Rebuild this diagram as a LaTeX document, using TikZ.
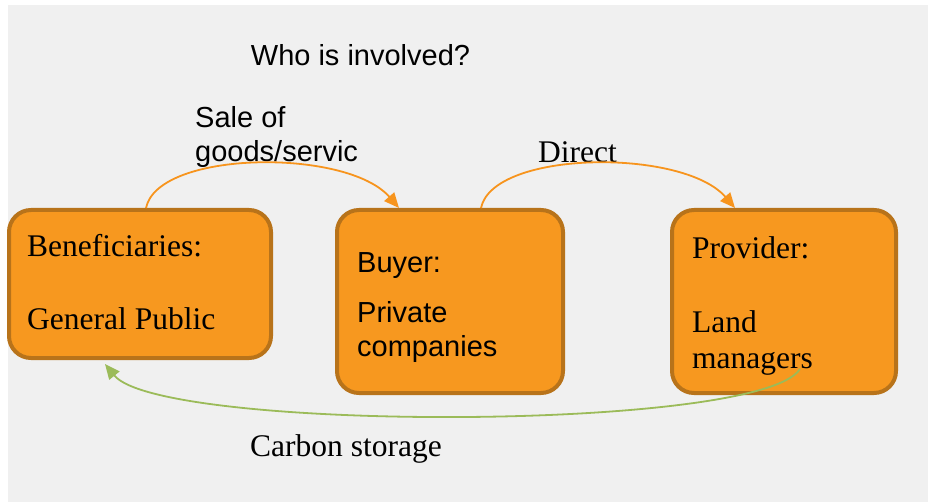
\documentclass[tikz,border=0pt]{standalone}
\usepackage{fontspec}
\setmainfont{Liberation Serif}
\newfontfamily\arialf{Liberation Sans}
\usetikzlibrary{arrows.meta}
\definecolor{bggray}{HTML}{F0F0F0}
\definecolor{boxfill}{HTML}{F7981F}
\definecolor{boxedge}{HTML}{B8731A}
\definecolor{arcorange}{HTML}{F7941D}
\definecolor{arcgreen}{HTML}{9BBB59}
\tikzset{
  box/.style={draw=boxedge, fill=boxfill, line width=4pt, rounded corners=22pt, inner sep=0pt},
  serif/.style={font=\fontsize{31.5}{36}\selectfont, anchor=base west, inner sep=0pt, text=black},
  sans/.style={font=\arialf\fontsize{29}{34}\selectfont, anchor=base west, inner sep=0pt, text=black},
  flow/.style={draw=arcorange, line width=1.8pt, -{Triangle[length=15pt,width=13pt]}},
  carbon/.style={draw=arcgreen, line width=1.8pt, -{Triangle[length=15pt,width=13pt]}}
}
\begin{document}
\begin{tikzpicture}[x=1pt,y=-1pt]
\useasboundingbox (0,0) rectangle (928,502);
\fill[white] (0,0) rectangle (928,502);
\fill[bggray] (8,5) rectangle (928,502);
% boxes
\node[box, minimum width=262pt, minimum height=148pt] (b1) at (140,284) {};
\node[box, minimum width=226pt, minimum height=183pt] (b2) at (450,301.5) {};
\node[box, minimum width=224pt, minimum height=183pt] (b3) at (784,301.5) {};
% texts
\node[sans] (title) at (250.7,66) {Who is involved?};
\node[serif] (t1a) at (27,257) {Beneficiaries:};
\node[serif] (t1b) at (27,330) {General Public};
\node[sans] (t2a) at (357,273) {Buyer:};
\node[sans] (t2b) at (357,322) {Private};
\node[sans] (t2c) at (357,356) {companies};
\node[serif] (t3a) at (692,259) {Provider:};
\node[serif] (t3b) at (692,332) {Land};
\node[serif] (t3c) at (692,368) {managers};
\node[sans] (l1a) at (195,128) {Sale of};
\node[sans] (l1b) at (195,162) {goods/servic};
\node[serif] (l2) at (538,163) {Direct};
\node[serif] (l3) at (250,456) {Carbon storage};
% connectors
\coordinate (s1) at ([xshift=139pt]b1.north west);
\coordinate (e1) at ([xshift=64pt]b2.north west);
\coordinate (s2) at ([xshift=146pt]b2.north west);
\coordinate (e2) at ([xshift=65pt]b3.north west);
\coordinate (s3) at ([xshift=130pt,yshift=26pt]b3.south west);
\coordinate (e3) at ([xshift=98pt,yshift=-4pt]b1.south west);
\draw[flow] (s1) .. controls ([xshift=12pt,yshift=58pt]s1) and ([xshift=-52pt,yshift=60pt]e1) .. (e1);
\draw[flow] (s2) .. controls ([xshift=12pt,yshift=58pt]s2) and ([xshift=-52pt,yshift=60pt]e2) .. (e2);
\draw[carbon] (s3) .. controls (760,432) and (160,432) .. (e3);
\end{tikzpicture}
\end{document}
